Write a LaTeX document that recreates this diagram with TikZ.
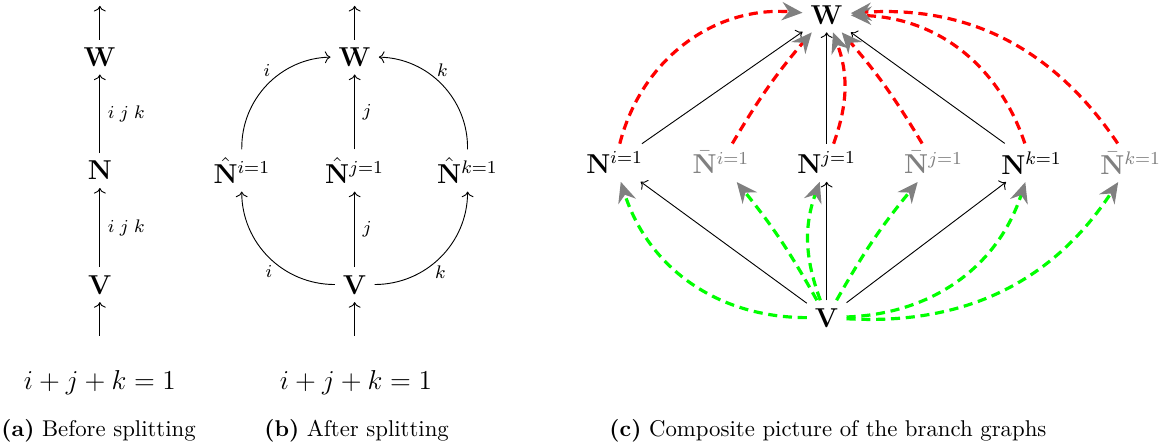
\documentclass[tikz,border=0pt]{standalone}
\usepackage{amsmath,amssymb}
\usetikzlibrary{arrows.meta}

\begin{document}
\begin{tikzpicture}[every node/.style={font=\large},
	lbl/.style={font=\footnotesize},
	captext/.style={font=\normalsize},
	ghost/.style={gray},
	redflow/.style={red, line width=1.4pt, dash pattern=on 4pt off 2.5pt, -{Stealth[gray, length=9pt, width=8pt, inset=3pt]}},
	greenflow/.style={green, line width=1.4pt, dash pattern=on 4pt off 2.5pt, -{Stealth[gray, length=9pt, width=8pt, inset=3pt]}}]
	\useasboundingbox (0,0) rectangle (18.03,6.86);
	% (a) before splitting
	\node (aW) at (1.54,5.98) {$\mathbf{W}$};
	\node (aN) at (1.54,4.23) {$\mathbf{N}$};
	\node (aV) at (1.54,2.47) {$\mathbf{V}$};
	\coordinate (aTop) at (1.54,6.77); \coordinate (aBot) at (1.54,1.68);
	\draw[->] (aW) -- (aTop);
	\draw[->] (aN) -- node[right, lbl] {$i\;j\;k$} (aW);
	\draw[->] (aV) -- node[right, lbl] {$i\;j\;k$} (aN);
	\draw[->] (aBot) -- (aV);
	\node (aEq) at (1.54,0.96) {$i+j+k=1$};
	\node[captext] (aCap) at (1.52,0.22) {\textbf{(a)} Before splitting};
	% (b) after splitting
	\node (bW) at (5.47,5.98) {$\mathbf{W}$};
	\node (bNi) at (3.73,4.23) {$\hat{\mathbf{N}}^{i=1}$};
	\node (bNj) at (5.47,4.23) {$\hat{\mathbf{N}}^{j=1}$};
	\node (bNk) at (7.21,4.23) {$\hat{\mathbf{N}}^{k=1}$};
	\node (bV) at (5.47,2.47) {$\mathbf{V}$};
	\coordinate (bTop) at (5.47,6.77); \coordinate (bBot) at (5.47,1.68);
	\draw[->] (bW) -- (bTop);
	\draw[->] (bNi) to[bend left=45] node[above, lbl] {$i$} (bW);
	\draw[->] (bNj) -- node[right, lbl] {$j$} (bW);
	\draw[->] (bNk) to[bend right=45] node[above, lbl] {$k$} (bW);
	\draw[->] (bV) to[bend left=45] node[below, lbl] {$i$} (bNi);
	\draw[->] (bV) -- node[right, lbl] {$j$} (bNj);
	\draw[->] (bV) to[bend right=45] node[below, lbl] {$k$} (bNk);
	\draw[->] (bBot) -- (bV);
	\node (bEq) at (5.49,0.96) {$i+j+k=1$};
	\node[captext] (bCap) at (5.50,0.22) {\textbf{(b)} After splitting};
	% (c) composite picture
	\node (cW) at (12.75,6.63) {$\mathbf{W}$};
	\node (cNi) at (9.48,4.35) {$\mathbf{N}^{i=1}$};
	\node[ghost] (cNbi) at (11.12,4.35) {$\bar{\mathbf{N}}^{i=1}$};
	\node (cNj) at (12.75,4.35) {$\mathbf{N}^{j=1}$};
	\node[ghost] (cNbj) at (14.40,4.35) {$\bar{\mathbf{N}}^{j=1}$};
	\node (cNk) at (15.91,4.35) {$\mathbf{N}^{k=1}$};
	\node[ghost] (cNbk) at (17.44,4.35) {$\bar{\mathbf{N}}^{k=1}$};
	\node (cV) at (12.75,1.96) {$\mathbf{V}$};
	\foreach \n in {cNi,cNj,cNk} {\draw[->] (\n) -- (cW); \draw[->] (cV) -- (\n);}
	\draw[redflow] (cNi) to[bend left=40] (cW);
	\draw[redflow] (cNbi) to[bend left=5] (cW);
	\draw[redflow] (cNj) to[bend right=20] (cW);
	\draw[redflow] (cNbj) to[bend right=5] (cW);
	\draw[redflow] (cNk) to[bend right=35] (cW);
	\draw[redflow] (cNbk) to[bend right=30] (cW);
	\draw[greenflow] (cV) to[bend left=36] (cNi);
	\draw[greenflow] (cV) to[bend right=5] (cNbi);
	\draw[greenflow] (cV) to[bend left=20] (cNj);
	\draw[greenflow] (cV) to[bend left=5] (cNbj);
	\draw[greenflow] (cV) to[bend right=35] (cNk);
	\draw[greenflow] (cV) to[bend right=30] (cNbk);
	\node[captext] (cCap) at (12.77,0.22) {\textbf{(c)} Composite picture of the branch graphs};
\end{tikzpicture}
\end{document}
